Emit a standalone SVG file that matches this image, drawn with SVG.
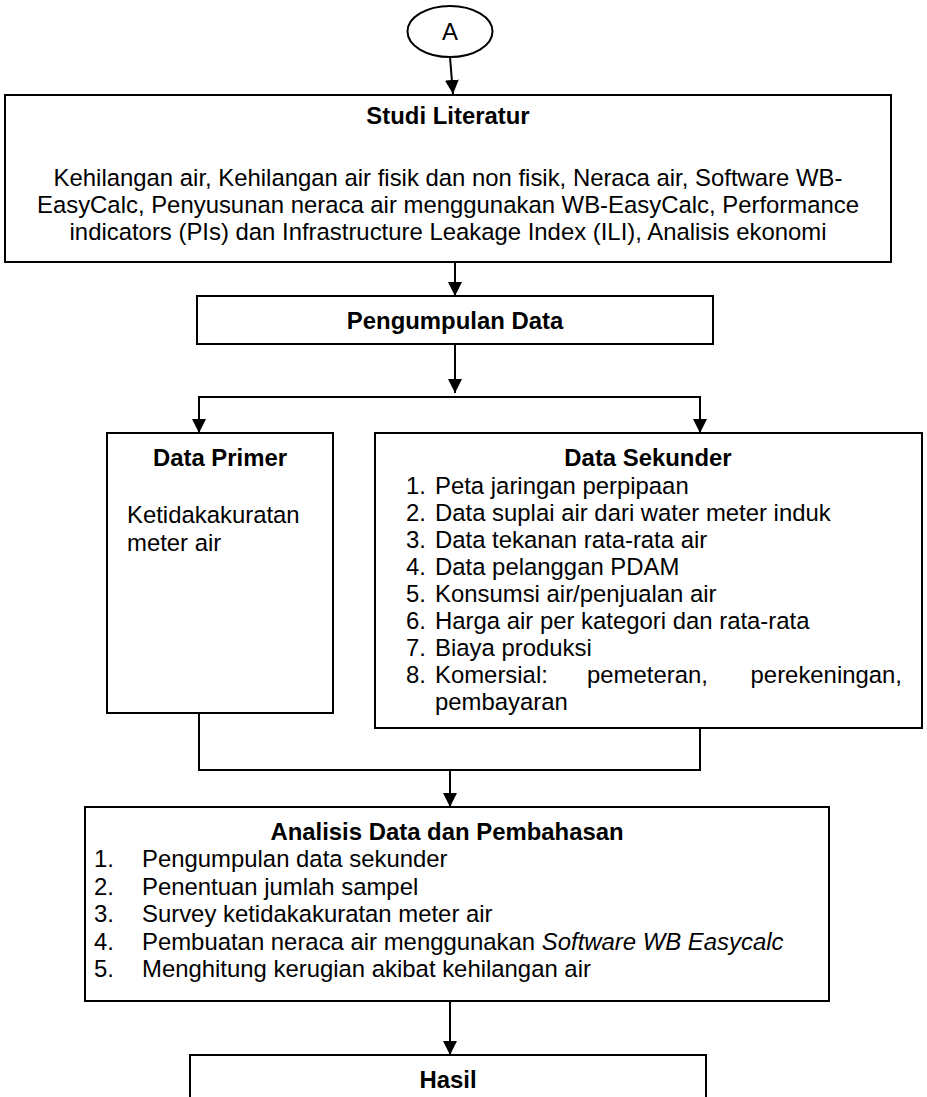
<svg xmlns="http://www.w3.org/2000/svg" width="927" height="1097" viewBox="0 0 927 1097">
<style>
.box{fill:#fff;stroke:#000;stroke-width:2}
.ln{fill:none;stroke:#000;stroke-width:2}
text{font-family:"Liberation Sans",Arial,sans-serif;font-size:23.9px;fill:#000}
.b{font-weight:bold}
.c{text-anchor:middle}
</style>
<defs>
<marker id="ah" markerWidth="14" markerHeight="16" refX="14" refY="7" orient="auto" markerUnits="userSpaceOnUse" viewBox="0 0 14 14">
<path d="M0,0 L14,7 L0,14 Z" fill="#000"/>
</marker>
</defs>
<rect width="927" height="1097" fill="#fff"/>
<g id="connectors">
<line class="ln" x1="450" y1="57" x2="453" y2="94" marker-end="url(#ah)"/>
<line class="ln" x1="455" y1="262" x2="455" y2="296" marker-end="url(#ah)"/>
<line class="ln" x1="455" y1="344" x2="455" y2="393" marker-end="url(#ah)"/>
<polyline class="ln" points="199,433 199,397 700,397 700,433"/>
<line class="ln" x1="199" y1="400" x2="199" y2="433" marker-end="url(#ah)"/>
<line class="ln" x1="700" y1="400" x2="700" y2="433" marker-end="url(#ah)"/>
<polyline class="ln" points="199,713 199,770 700,770 700,728"/>
<line class="ln" x1="450" y1="771" x2="450" y2="807" marker-end="url(#ah)"/>
<line class="ln" x1="450" y1="1001" x2="450" y2="1055" marker-end="url(#ah)"/>
</g>
<g id="nodeA">
<ellipse class="box" cx="450" cy="31.5" rx="42.5" ry="25.5"/>
<text class="c" x="450" y="40">A</text>
</g>
<g id="studi">
<rect class="box" x="5" y="95" width="886" height="167"/>
<text class="b c" x="448" y="124">Studi Literatur</text>
<text class="c" x="448" y="186">Kehilangan air, Kehilangan air fisik dan non fisik, Neraca air, Software WB-</text>
<text class="c" x="448" y="213">EasyCalc, Penyusunan neraca air menggunakan WB-EasyCalc, Performance</text>
<text class="c" x="448" y="240">indicators (PIs) dan Infrastructure Leakage Index (ILI), Analisis ekonomi</text>
</g>
<g id="pengumpulan">
<rect class="box" x="197" y="296" width="516" height="48"/>
<text class="b c" x="455" y="329">Pengumpulan Data</text>
</g>
<g id="primer">
<rect class="box" x="107" y="433" width="226" height="280"/>
<text class="b c" x="220" y="466">Data Primer</text>
<text x="127" y="523">Ketidakakuratan</text>
<text x="127" y="551">meter air</text>
</g>
<g id="sekunder">
<rect class="box" x="375" y="433" width="547" height="295"/>
<text class="b c" x="648" y="466">Data Sekunder</text>
<text x="406" y="494">1.</text><text x="435" y="494">Peta jaringan perpipaan</text>
<text x="406" y="521">2.</text><text x="435" y="521">Data suplai air dari water meter induk</text>
<text x="406" y="548">3.</text><text x="435" y="548">Data tekanan rata-rata air</text>
<text x="406" y="575">4.</text><text x="435" y="575">Data pelanggan PDAM</text>
<text x="406" y="602">5.</text><text x="435" y="602">Konsumsi air/penjualan air</text>
<text x="406" y="629">6.</text><text x="435" y="629">Harga air per kategori dan rata-rata</text>
<text x="406" y="656">7.</text><text x="435" y="656">Biaya produksi</text>
<text x="406" y="683">8.</text><text x="435" y="683">Komersial:</text><text x="587" y="683">pemeteran,</text><text x="902" y="683" text-anchor="end">perekeningan,</text>
<text x="435" y="710">pembayaran</text>
</g>
<g id="analisis">
<rect class="box" x="85" y="807" width="744" height="194"/>
<text class="b c" x="447" y="840">Analisis Data dan Pembahasan</text>
<text x="94" y="867">1.</text><text x="142" y="867">Pengumpulan data sekunder</text>
<text x="94" y="895">2.</text><text x="142" y="895">Penentuan jumlah sampel</text>
<text x="94" y="922">3.</text><text x="142" y="922">Survey ketidakakuratan meter air</text>
<text x="94" y="950">4.</text><text x="142" y="950">Pembuatan neraca air menggunakan <tspan font-style="italic">Software WB Easycalc</tspan></text>
<text x="94" y="977">5.</text><text x="142" y="977">Menghitung kerugian akibat kehilangan air</text>
</g>
<g id="hasil">
<rect class="box" x="190" y="1055" width="516" height="60"/>
<text class="b c" x="448" y="1088">Hasil</text>
</g>
</svg>
